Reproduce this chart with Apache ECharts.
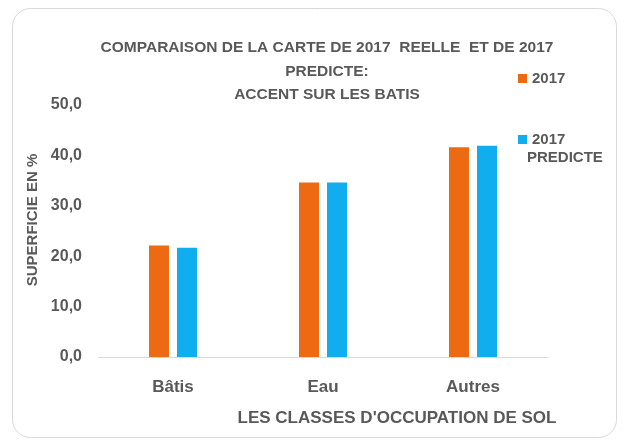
<!DOCTYPE html>
<html>
<head>
<meta charset="utf-8">
<script src="https://cdn.jsdelivr.net/npm/echarts@6/dist/echarts.min.js"></script>
<style>
	html, body { margin: 0; padding: 0; background: #fff; }
	#main { width: 629px; height: 441px; }
</style>
</head>
<body>
<div id="main"></div>
<script>
// classes d'occupation du sol
var categories = ['Bâtis', 'Eau', 'Autres'];
var reelle2017 = [22.1, 34.6, 41.6];
var predicte2017 = [21.7, 34.6, 41.9];
var seriesNames = ['2017', '2017 PREDICTE'];
var yTicks = [0, 10, 20, 30, 40, 50];

function barChart(divId) {
	var dom = document.getElementById(divId);
	var chart = echarts.getInstanceByDom(dom);
	if (chart == '' || chart == undefined || chart == null) {
		chart = echarts.init(dom);
	} else {
		chart.clear();
	}

	var barcolors = ['#EE6A12', '#10AEEE'];
	var font = "'Liberation Sans', Arial, sans-serif";
	var grey = '#595959';

	var option = {
		animation: false,
		backgroundColor: '#fff',
		color: barcolors,
		title: {
			left: 322,
			textAlign: 'center',
			top: 31,
			text: 'COMPARAISON DE LA CARTE DE 2017  REELLE  ET DE 2017\nPREDICTE:\nACCENT SUR LES BATIS',
			textStyle: {
				fontFamily: font,
				fontSize: 15.5,
				fontWeight: 'bold',
				color: grey,
				lineHeight: 23.5
			}
		},
		legend: {
			orient: 'vertical',
			left: 513,
			top: 66,
			icon: 'rect',
			itemWidth: 9,
			itemHeight: 9,
			itemGap: 46,
			data: seriesNames,
			formatter: function (name) {
				// la 2e ligne "PREDICTE" est posee dans graphic
				return name == '2017 PREDICTE' ? '2017' : name;
			},
			textStyle: {
				fontFamily: font,
				fontSize: 15,
				fontWeight: 'bold',
				color: grey
			}
		},
		grid: {
			left: 98,
			right: 81,
			top: 105,
			bottom: 84
		},
		xAxis: {
			type: 'category',
			data: categories,
			name: "LES CLASSES D'OCCUPATION DE SOL",
			nameLocation: 'middle',
			nameGap: 53,
			nameTextStyle: {
				fontFamily: font,
				fontSize: 17,
				fontWeight: 'bold',
				color: grey,
				padding: [0, 0, 0, 148]
			},
			axisLine: { lineStyle: { color: '#d9d9d9', width: 1 } },
			axisTick: { show: false },
			axisLabel: {
				margin: 22,
				fontFamily: font,
				fontSize: 17,
				fontWeight: 'bold',
				color: grey
			}
		},
		yAxis: {
			type: 'value',
			min: yTicks[0],
			max: yTicks[yTicks.length - 1],
			interval: 10,
			name: 'SUPERFICIE EN %',
			nameLocation: 'middle',
			nameGap: 53,
			nameTextStyle: {
				fontFamily: font,
				fontSize: 15,
				fontWeight: 'bold',
				color: grey,
				padding: [0, 0, 0, 22]
			},
			axisLine: { show: false },
			axisTick: { show: false },
			splitLine: { show: false },
			axisLabel: {
				margin: 16,
				fontFamily: font,
				fontSize: 16,
				fontWeight: 'bold',
				color: grey,
				formatter: function (v) {
					return v.toFixed(1).replace('.', ',');
				}
			}
		},
		graphic: [{
			type: 'rect',
			shape: { x: 12.5, y: 8.5, width: 604, height: 429, r: 18 },
			style: { fill: 'none', stroke: '#d9d9d9', lineWidth: 1 },
			silent: true,
			z: -1
		}, {
			type: 'text',
			left: 527,
			top: 150,
			style: {
				text: 'PREDICTE',
				fontFamily: font,
				fontSize: 15,
				fontWeight: 'bold',
				fill: grey
			}
		}],
		series: [{
			type: 'bar',
			name: seriesNames[0],
			data: reelle2017,
			barWidth: 20,
			barGap: '40%'
		}, {
			type: 'bar',
			name: seriesNames[1],
			data: predicte2017,
			barWidth: 20,
			barGap: '40%'
		}]
	};

	chart.setOption(option, true);
	window.addEventListener("resize", function (e) {
		chart.resize();
	});
	return chart;
}

barChart('main');
</script>
</body>
</html>
